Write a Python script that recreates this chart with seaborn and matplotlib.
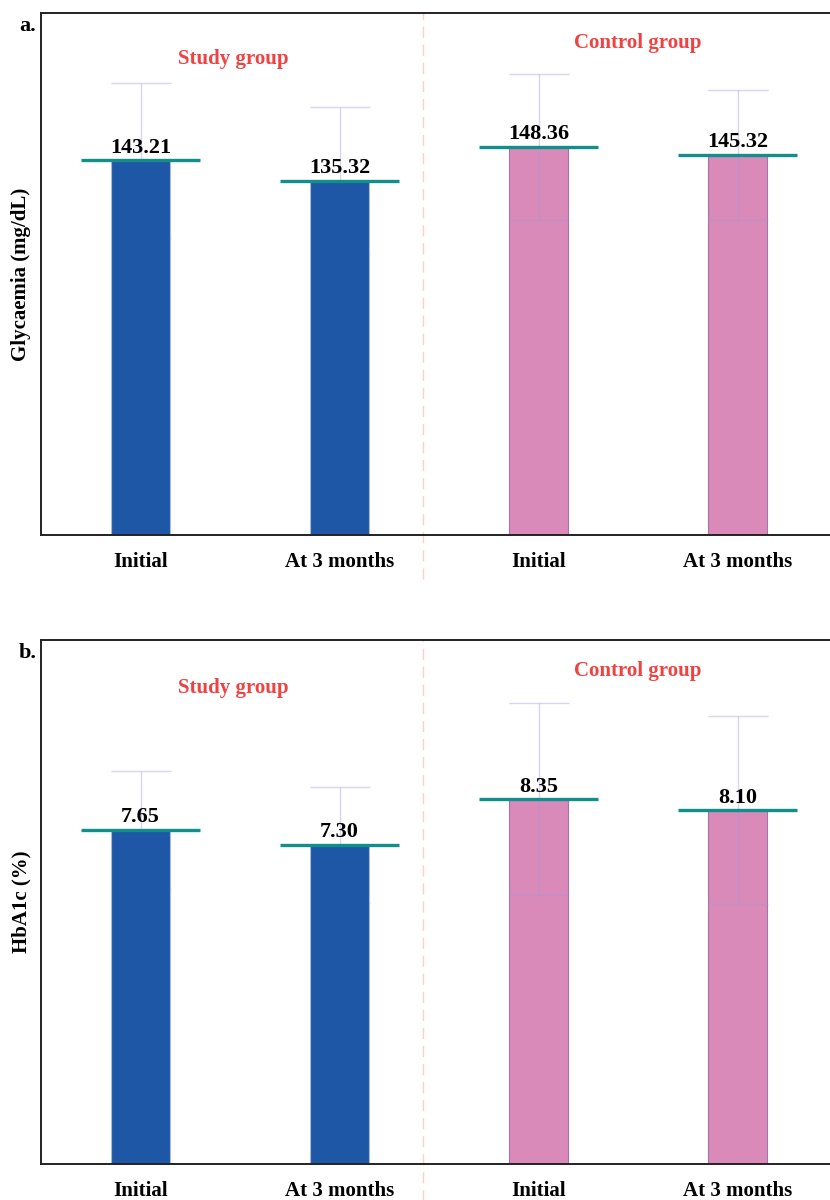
import numpy as np
import pandas as pd
import matplotlib
matplotlib.use("Agg")
import matplotlib.pyplot as plt
import seaborn as sns

# data
groups = ["Study group", "Study group", "Control group", "Control group"]
times = ["Initial", "At 3 months", "Initial", "At 3 months"]
glyc_mean = [143.21, 135.32, 148.36, 145.32]
glyc_sd = [29.7, 28.1, 28.0, 24.8]
hba1c_mean = [7.65, 7.30, 8.35, 8.10]
hba1c_sd = [1.35, 1.33, 2.2, 2.15]

sns.set_style("white")
plt.rcParams["font.family"] = ["Liberation Serif", "DejaVu Serif"]
plt.rcParams["font.weight"] = "bold"
plt.rcParams["text.color"] = "black"
plt.rcParams["axes.labelcolor"] = "black"
plt.rcParams["xtick.color"] = "black"

blue = "#1F57A7"
pink = "#D98AB9"
teal = "#11908B"
red = "#EE4343"
errc = "#9A9AD8"

fig = plt.figure(figsize=(8.3, 12), dpi=100)
ax_a = fig.add_axes([41/830, 665/1200, 796/830, 522/1200])
ax_b = fig.add_axes([41/830, 36/1200, 796/830, 524/1200])


def panel(ax, means, sds, ylim, ylabel, letter, grp_y, sep_low):
    df = pd.DataFrame({"key": [f"{g}|{t}" for g, t in zip(groups, times)],
                       "group": groups, "val": means})
    sns.barplot(data=df, x="key", y="val", hue="group", dodge=False,
                palette={"Study group": blue, "Control group": pink},
                saturation=1, width=0.3, legend=False, ax=ax, zorder=2)
    for p, g in zip(ax.patches, groups):
        if g == "Study group":
            p.set_edgecolor("#A9BADB")
        else:
            p.set_edgecolor("#A873A8")
        p.set_linewidth(0.8)
    x = np.arange(len(means))
    for xi, m, s, g in zip(x, means, sds, groups):
        z = 1 if g == "Study group" else 3
        ax.errorbar(xi, m, yerr=s, color=errc, alpha=0.4, lw=1,
                    capsize=21.6, capthick=1, zorder=z)
    ax.hlines(means, x - 0.3, x + 0.3, color=teal, lw=2.4, zorder=4)
    for xi, m in zip(x, means):
        ax.annotate(f"{m:.2f}", (xi, m), xytext=(0, 2),
                    textcoords="offset points", ha="center", va="bottom",
                    fontsize=16, fontweight="bold", zorder=5)
    ax.set_xlim(-0.5, 3.5)
    ax.set_ylim(*ylim)
    ax.set_xticks(x)
    ax.set_xticklabels(times, fontsize=15, fontweight="bold")
    ax.tick_params(axis="x", length=0, pad=12)
    ax.set_yticks([])
    ax.set_xlabel("")
    ax.set_ylabel(ylabel, fontsize=15, fontweight="bold", labelpad=7)
    for s in ["left", "top", "bottom"]:
        ax.spines[s].set_color("#222222")
        ax.spines[s].set_linewidth(1.4)
    ax.spines["right"].set_visible(False)
    ax.plot([1.42, 1.42], [sep_low, ylim[1]], ls=(0, (8, 5)), color="#F9CFCF",
            lw=1, clip_on=False, zorder=0)
    ax.text(0.465, grp_y[0], "Study group", color=red, fontsize=15,
            fontweight="bold", ha="center", va="center")
    ax.text(2.5, grp_y[1], "Control group", color=red, fontsize=15,
            fontweight="bold", ha="center", va="center")
    ax.text(-0.006, 0.995, letter, transform=ax.transAxes, fontsize=16,
            fontweight="bold", ha="right", va="top")


panel(ax_a, glyc_mean, glyc_sd, (0, 199.5), "Glycaemia (mg/dL)", "a.",
      (182, 188), -17)
panel(ax_b, hba1c_mean, hba1c_sd, (0, 12), "HbA1c (%)", "b.",
      (10.9, 11.3), -1.0)

fig.savefig("out.png", dpi=100)
